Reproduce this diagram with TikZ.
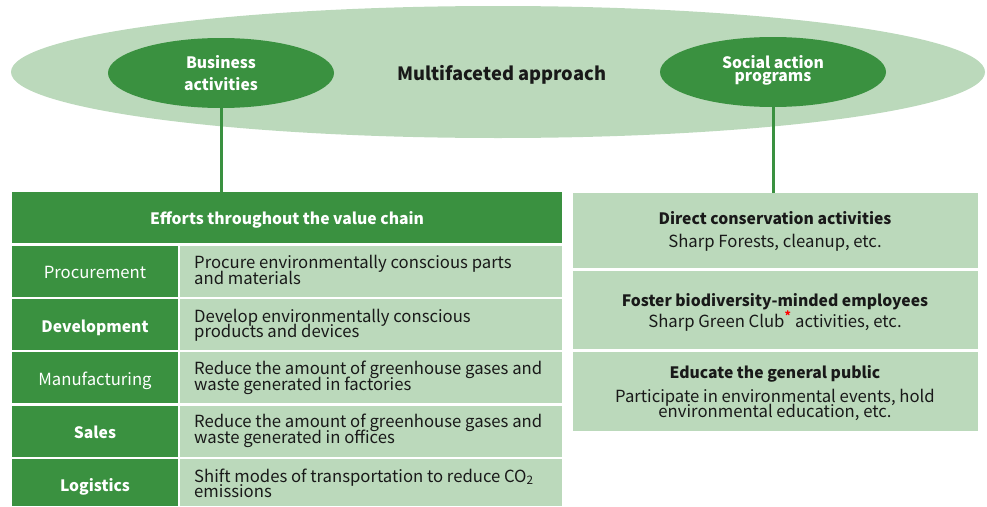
\documentclass[tikz,border=0pt]{standalone}
\usepackage{fontspec}
\setmainfont{Noto Sans CJK JP}
\usetikzlibrary{shapes.geometric}
\definecolor{dg}{RGB}{58,145,64}
\definecolor{lg}{RGB}{187,217,187}
\definecolor{tx}{RGB}{25,25,25}
\newcommand{\rf}{\fontsize{16.7}{16.7}\selectfont}
\newcommand{\bff}{\fontsize{15.7}{15.7}\selectfont\bfseries}
\begin{document}
\begin{tikzpicture}[x=1pt,y=-1pt,
  cell/.style={draw=none, inner sep=0pt, anchor=north west},
  dcell/.style={cell, fill=dg},
  lcell/.style={cell, fill=lg},
  oval/.style={ellipse, draw=none, inner sep=0pt},
  wt/.style={text=white, inner sep=0pt, anchor=base, font=\rf},
  bt/.style={text=tx, inner sep=0pt, anchor=base, font=\rf},
  desc/.style={text=tx, inner sep=0pt, anchor=base west, font=\rf},
  link/.style={draw=dg, line width=3pt}
]
\useasboundingbox (0,0) rectangle (987,506);
% top ellipses
\node[oval, fill=lg, minimum width=974pt, minimum height=132pt] (big) at (498,72) {};
\node[oval, fill=dg, minimum width=226pt, minimum height=70pt] (ba) at (221,73) {};
\node[oval, fill=dg, minimum width=226pt, minimum height=70pt] (sa) at (773,72) {};
\node[bt, font=\fontsize{18.3}{18.3}\selectfont\bfseries] (multi) at (502,80) {Multifaceted approach};
\node[wt, font=\bff] (ba1) at (221,68) {Business};
\node[wt, font=\bff] (ba2) at (221,90) {activities};
\node[wt, font=\fontsize{15.7}{13.5}\selectfont\bfseries, align=center] (sa1) at (773,81.5) {Social action\\programs};
% left table
\node[dcell, minimum width=550pt, minimum height=51pt] (hdr) at (12,192) {};
\node[wt, font=\bff] (hdrt) at (287,224) {Efforts throughout the value chain};
\node[dcell, minimum width=166pt, minimum height=51pt] (p1) at (12,246) {};
\node[dcell, minimum width=166pt, minimum height=51pt] (p2) at (12,299) {};
\node[dcell, minimum width=166pt, minimum height=51pt] (p3) at (12,352) {};
\node[dcell, minimum width=166pt, minimum height=51pt] (p4) at (12,406) {};
\node[dcell, minimum width=166pt, minimum height=47pt] (p5) at (12,459) {};
\node[lcell, minimum width=382pt, minimum height=51pt] (d1) at (180,246) {};
\node[lcell, minimum width=382pt, minimum height=51pt] (d2) at (180,299) {};
\node[lcell, minimum width=382pt, minimum height=51pt] (d3) at (180,352) {};
\node[lcell, minimum width=382pt, minimum height=51pt] (d4) at (180,406) {};
\node[lcell, minimum width=382pt, minimum height=47pt] (d5) at (180,459) {};
\node[wt] (p1t) at (95,278) {Procurement};
\node[wt, font=\bff] (p2t) at (95,332) {Development};
\node[wt] (p3t) at (95,385) {Manufacturing};
\node[wt, font=\bff] (p4t) at (95,438) {Sales};
\node[wt, font=\bff] (p5t) at (95,491) {Logistics};
\node[desc] (d1a) at (194,268) {Procure environmentally conscious parts};
\node[desc] (d1b) at (194,284) {and materials};
\node[desc] (d2a) at (194,322) {Develop environmentally conscious};
\node[desc] (d2b) at (194,337) {products and devices};
\node[desc] (d3a) at (194,374) {Reduce the amount of greenhouse gases and};
\node[desc] (d3b) at (194,390) {waste generated in factories};
\node[desc] (d4a) at (194,427) {Reduce the amount of greenhouse gases and};
\node[desc] (d4b) at (194,443) {waste generated in offices};
\node[desc] (d5a) at (194,482) {Shift modes of transportation to reduce CO\textsubscript{2}};
\node[desc] (d5b) at (194,497) {emissions};
% right table
\node[lcell, minimum width=405pt, minimum height=75pt] (r1) at (573,193) {};
\node[lcell, minimum width=405pt, minimum height=78pt] (r2) at (573,271) {};
\node[lcell, minimum width=405pt, minimum height=79pt] (r3) at (573,352) {};
\node[bt, font=\bff] (r1a) at (775,224) {Direct conservation activities};
\node[bt] (r1b) at (775,247) {Sharp Forests, cleanup, etc.};
\node[bt, font=\bff] (r2a) at (775,306) {Foster biodiversity-minded employees};
\node[bt] (r2b) at (775,327) {Sharp Green Club\textsuperscript{\textcolor{red}{\bfseries\large *}} activities, etc.};
\node[bt, font=\bff] (r3a) at (775,378) {Educate the general public};
\node[bt] (r3b) at (775,402) {Participate in environmental events, hold};
\node[bt] (r3c) at (775,417) {environmental education, etc.};
% connectors
\draw[link] (ba.south) -- (ba.south |- hdr.north);
\draw[link] (sa.south) -- (sa.south |- r1.north);
\end{tikzpicture}
\end{document}
